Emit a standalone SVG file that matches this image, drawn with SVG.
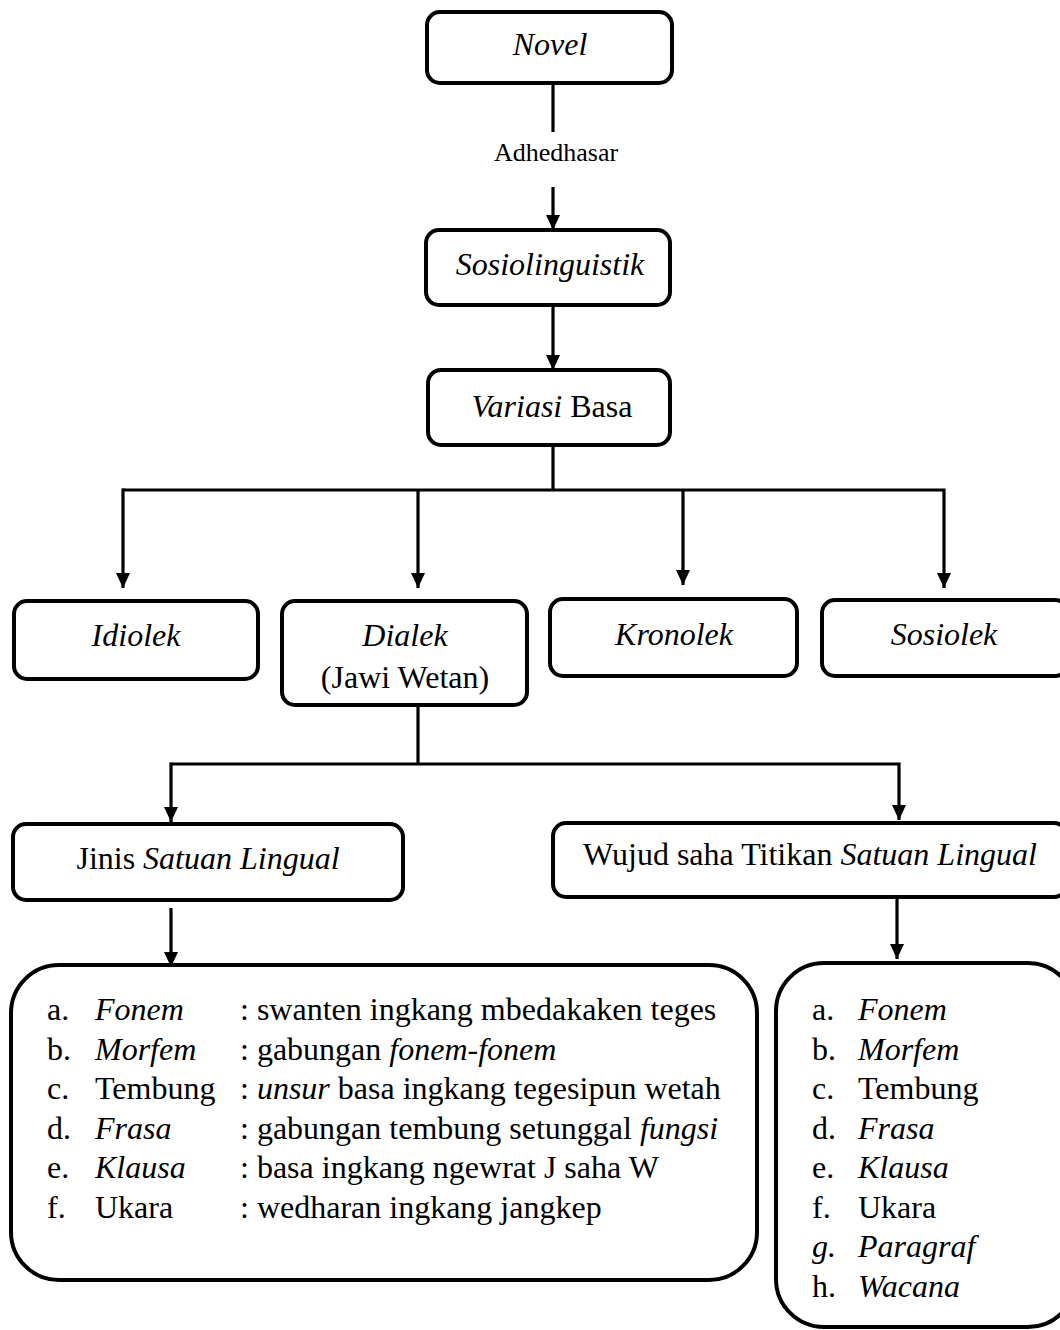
<svg xmlns="http://www.w3.org/2000/svg" width="1060" height="1330" viewBox="0 0 1060 1330">
<style>
.box{fill:#fff;stroke:#000;stroke-width:4}
.ln{fill:none;stroke:#000;stroke-width:3.2}
.t{font-family:"Liberation Serif","Times New Roman",serif;font-size:32px;fill:#000}
.c{text-anchor:middle}
.i{font-style:italic}
.s{font-size:26px}
</style>
<defs>
<marker id="ah" viewBox="0 0 15 14" refX="15" refY="7" markerWidth="15" markerHeight="14" markerUnits="userSpaceOnUse" orient="auto">
<path d="M0,0 L15,7 L0,14 Z" fill="#000"/>
</marker>
</defs>
<rect width="1060" height="1330" fill="#fff"/>
<g id="connectors">
<line class="ln" x1="553" y1="83" x2="553" y2="132"/>
<text class="t s c" x="556" y="161">Adhedhasar</text>
<line class="ln" x1="553" y1="187" x2="553" y2="230" marker-end="url(#ah)"/>
<line class="ln" x1="553" y1="305" x2="553" y2="370" marker-end="url(#ah)"/>
<line class="ln" x1="553" y1="445" x2="553" y2="490"/>
<polyline class="ln" points="123,490 944,490 944,588" marker-end="url(#ah)"/>
<line class="ln" x1="123" y1="488.4" x2="123" y2="588" marker-end="url(#ah)"/>
<line class="ln" x1="418" y1="490" x2="418" y2="588" marker-end="url(#ah)"/>
<line class="ln" x1="683" y1="490" x2="683" y2="585" marker-end="url(#ah)"/>
<line class="ln" x1="418" y1="705" x2="418" y2="764"/>
<polyline class="ln" points="171,764 899,764 899,820" marker-end="url(#ah)"/>
<line class="ln" x1="171" y1="762.4" x2="171" y2="822" marker-end="url(#ah)"/>
<line class="ln" x1="171" y1="908" x2="171" y2="967" marker-end="url(#ah)"/>
<line class="ln" x1="897" y1="897" x2="897" y2="959" marker-end="url(#ah)"/>
</g>
<g id="novel">
<rect class="box" x="427" y="12" width="245" height="71" rx="13"/>
<text class="t c i" x="550" y="55">Novel</text>
</g>
<g id="sosiolinguistik">
<rect class="box" x="426" y="230" width="244" height="75" rx="13"/>
<text class="t c i" x="550" y="275">Sosiolinguistik</text>
</g>
<g id="variasi">
<rect class="box" x="428" y="370" width="242" height="75" rx="13"/>
<text class="t c" x="552" y="417"><tspan class="i">Variasi</tspan> Basa</text>
</g>
<g id="idiolek">
<rect class="box" x="14" y="601" width="244" height="78" rx="13"/>
<text class="t c i" x="136" y="646">Idiolek</text>
</g>
<g id="dialek">
<rect class="box" x="282" y="601" width="245" height="104" rx="13"/>
<text class="t c i" x="405" y="646">Dialek</text>
<text class="t c" x="405" y="688">(Jawi Wetan)</text>
</g>
<g id="kronolek">
<rect class="box" x="550" y="599" width="247" height="77" rx="13"/>
<text class="t c i" x="674" y="645">Kronolek</text>
</g>
<g id="sosiolek">
<rect class="box" x="822" y="600" width="246" height="76" rx="13"/>
<text class="t c i" x="944" y="645">Sosiolek</text>
</g>
<g id="jinis">
<rect class="box" x="13" y="824" width="390" height="76" rx="13"/>
<text class="t c" x="208" y="869">Jinis <tspan class="i">Satuan Lingual</tspan></text>
</g>
<g id="wujud">
<rect class="box" x="553" y="823" width="514" height="74" rx="13"/>
<text class="t c" x="810" y="865">Wujud saha Titikan <tspan class="i">Satuan Lingual</tspan></text>
</g>
<g id="jinis-list">
<rect class="box" x="11" y="965" width="746" height="315" rx="48"/>
<text class="t" x="47" y="1020">a.</text><text class="t i" x="95" y="1020">Fonem</text><text class="t" x="240" y="1020">: swanten ingkang mbedakaken teges</text>
<text class="t" x="47" y="1060">b.</text><text class="t i" x="95" y="1060">Morfem</text><text class="t" x="240" y="1060">: gabungan <tspan class="i">fonem-fonem</tspan></text>
<text class="t" x="47" y="1099">c.</text><text class="t" x="95" y="1099">Tembung</text><text class="t" x="240" y="1099">: <tspan class="i">unsur</tspan> basa ingkang tegesipun wetah</text>
<text class="t" x="47" y="1139">d.</text><text class="t i" x="95" y="1139">Frasa</text><text class="t" x="240" y="1139">: gabungan tembung setunggal <tspan class="i">fungsi</tspan></text>
<text class="t" x="47" y="1178">e.</text><text class="t i" x="95" y="1178">Klausa</text><text class="t" x="240" y="1178">: basa ingkang ngewrat J saha W</text>
<text class="t" x="47" y="1218">f.</text><text class="t" x="95" y="1218">Ukara</text><text class="t" x="240" y="1218">: wedharan ingkang jangkep</text>
</g>
<g id="wujud-list">
<rect class="box" x="776" y="963" width="300" height="364" rx="48"/>
<text class="t" x="812" y="1020">a.</text><text class="t i" x="858" y="1020">Fonem</text>
<text class="t" x="812" y="1060">b.</text><text class="t i" x="858" y="1060">Morfem</text>
<text class="t" x="812" y="1099">c.</text><text class="t" x="858" y="1099">Tembung</text>
<text class="t" x="812" y="1139">d.</text><text class="t i" x="858" y="1139">Frasa</text>
<text class="t" x="812" y="1178">e.</text><text class="t i" x="858" y="1178">Klausa</text>
<text class="t" x="812" y="1218">f.</text><text class="t" x="858" y="1218">Ukara</text>
<text class="t i" x="812" y="1257">g.</text><text class="t i" x="858" y="1257">Paragraf</text>
<text class="t" x="812" y="1297">h.</text><text class="t i" x="858" y="1297">Wacana</text>
</g>
</svg>
